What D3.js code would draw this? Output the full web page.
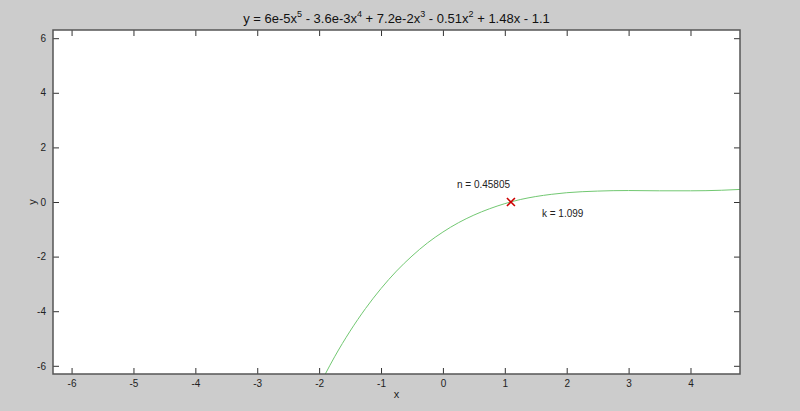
<!DOCTYPE html>
<html>
<head>
<meta charset="utf-8">
<script src="https://cdn.jsdelivr.net/npm/d3@7"></script>
<style>
  html, body { margin: 0; padding: 0; background: #cccccc; }
  svg { display: block; font-family: "Liberation Sans", Arial, sans-serif; }
</style>
</head>
<body>
<div id="chart"></div>
<script>
// values
const curveX = [-1.95, -1.9, -1.75, -1.5, -1.25, -1, -0.75, -0.5, -0.25, 0, 0.25, 0.5, 0.75, 1, 1.25, 1.5, 1.75, 2, 2.5, 3, 3.5, 4, 4.5, 4.8];
const curveY = [-6.52, -6.30, -5.67, -4.73, -3.90, -3.17, -2.53, -1.98, -1.50, -1.10, -0.76, -0.48, -0.25, -0.06, 0.09, 0.20, 0.28, 0.34, 0.40, 0.42, 0.41, 0.41, 0.43, 0.46];
const xTicks = [-6, -5, -4, -3, -2, -1, 0, 1, 2, 3, 4];
const yTicks = [-6, -4, -2, 0, 2, 4, 6];
const rootPoint = { x: 1.099, y: 0 };
const nLabel = 'n = 0.45805';
const kLabel = 'k = 1.099';

const W = 800, H = 411;
const margin = { left: 53, top: 30, right: 60, bottom: 37 };
const iw = W - margin.left - margin.right;
const ih = H - margin.top - margin.bottom;

const svg = d3.select('#chart').append('svg').attr('width', W).attr('height', H);

const x = d3.scaleLinear().domain([-6.3, 4.8]).range([0, iw]);
const y = d3.scaleLinear().domain([-6.3, 6.3]).range([ih, 0]);

const g = svg.append('g').attr('transform', `translate(${margin.left},${margin.top})`);

g.append('rect').attr('width', iw).attr('height', ih).attr('fill', '#fff');

svg.append('defs').append('clipPath').attr('id', 'clip')
  .append('rect').attr('width', iw).attr('height', ih);

// curve
const pts = curveX.map((v, i) => [v, curveY[i]]);
g.append('path')
  .datum(pts)
  .attr('clip-path', 'url(#clip)')
  .attr('fill', 'none')
  .attr('stroke', '#72c872')
  .attr('stroke-width', 1)
  .attr('d', d3.line().x(d => x(d[0])).y(d => y(d[1])).curve(d3.curveMonotoneX));

// axes — matlab style, ticks pointing in, on all four sides, plain hyphen minus
const tickLen = 6;
const axColor = '#555';
const fmt = d => String(d);
const axBottom = g.append('g').attr('transform', `translate(0,${ih})`)
  .call(d3.axisBottom(x).tickValues(xTicks).tickFormat(fmt).tickSizeInner(-tickLen).tickSizeOuter(0).tickPadding(6));
const axTop = g.append('g')
  .call(d3.axisTop(x).tickValues(xTicks).tickSizeInner(-tickLen).tickSizeOuter(0).tickFormat(''));
const axLeft = g.append('g')
  .call(d3.axisLeft(y).tickValues(yTicks).tickFormat(fmt).tickSizeInner(-tickLen).tickSizeOuter(0).tickPadding(6));
const axRight = g.append('g').attr('transform', `translate(${iw},0)`)
  .call(d3.axisRight(y).tickValues(yTicks).tickSizeInner(-tickLen).tickSizeOuter(0).tickFormat(''));

[axBottom, axTop, axLeft, axRight].forEach(a => {
  a.select('.domain').remove();
  a.selectAll('line').attr('stroke', '#333');
  a.selectAll('text').attr('fill', '#222').style('font-size', '10px');
});
axLeft.selectAll('text').attr('dx', -1);

g.append('rect').attr('width', iw).attr('height', ih)
  .attr('fill', 'none').attr('stroke', axColor).attr('stroke-width', 1.5);

// root marker
const mx = x(rootPoint.x), my = y(rootPoint.y), s = 4;
g.append('path')
  .attr('d', `M${mx - s},${my - s}L${mx + s},${my + s}M${mx - s},${my + s}L${mx + s},${my - s}`)
  .attr('stroke', '#cc0000').attr('stroke-width', 1.6).attr('fill', 'none');

g.append('text').attr('x', mx - 54).attr('y', my - 14)
  .style('font-size', '10px').attr('fill', '#222').text(nLabel);
g.append('text').attr('x', mx + 31).attr('y', my + 15)
  .style('font-size', '10px').attr('fill', '#222').text(kLabel);

// title with superscripts
const title = svg.append('text')
  .attr('x', margin.left + iw / 2).attr('y', 23)
  .attr('text-anchor', 'middle').style('font-size', '13px').attr('fill', '#111');
const parts = [['y = 6e-5x', ''], ['5', 'sup'], [' - 3.6e-3x', ''], ['4', 'sup'], [' + 7.2e-2x', ''], ['3', 'sup'],
  [' - 0.51x', ''], ['2', 'sup'], [' + 1.48x - 1.1', '']];
let prevSup = false;
parts.forEach(([t, k]) => {
  const ts = title.append('tspan').text(t);
  if (k === 'sup') { ts.attr('dy', -6).style('font-size', '9px'); prevSup = true; }
  else if (prevSup) { ts.attr('dy', 6); prevSup = false; }
});

// axis labels
svg.append('text').attr('x', margin.left + x(-0.75)).attr('y', 398)
  .attr('text-anchor', 'middle').style('font-size', '11px').attr('fill', '#222').text('x');
svg.append('text')
  .attr('transform', `translate(36,${margin.top + y(0)}) rotate(-90)`)
  .attr('text-anchor', 'middle').style('font-size', '11px').attr('fill', '#222').text('y');
</script>
</body>
</html>
